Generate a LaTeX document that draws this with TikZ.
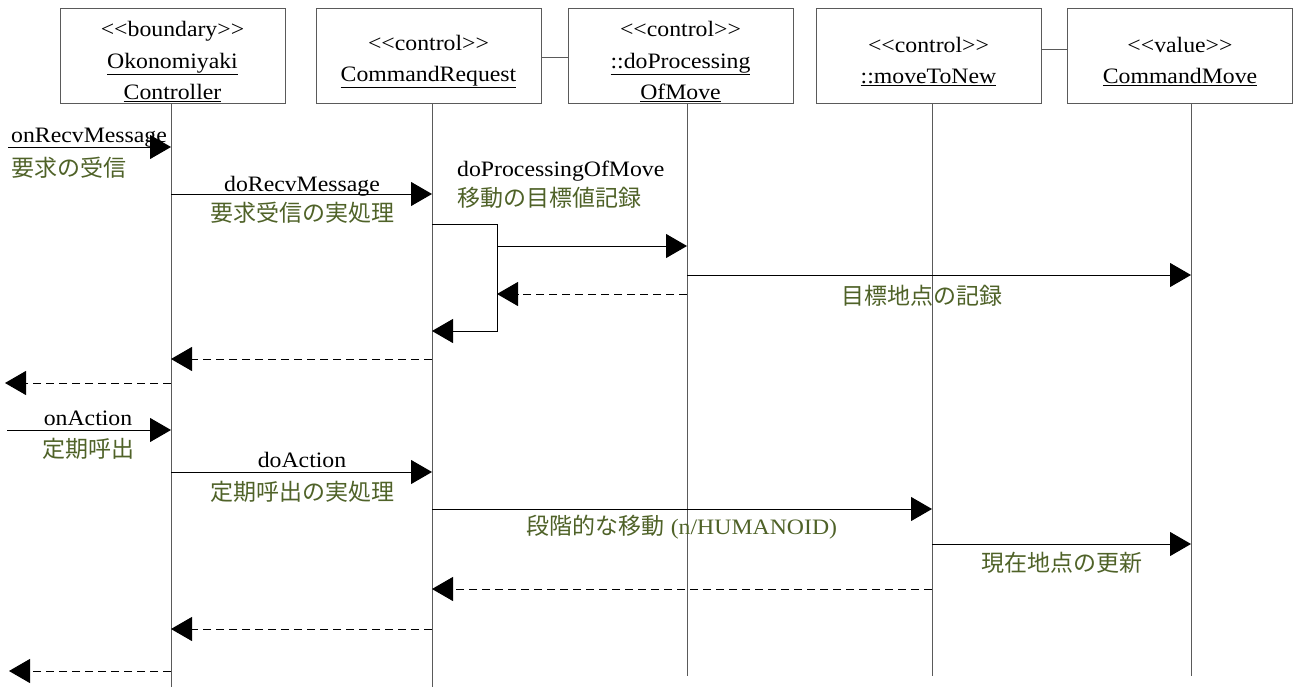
\documentclass[tikz,border=0pt]{standalone}
\usepackage{fontspec}
\setmainfont{Liberation Serif}[Ligatures=TeXOff, FakeStretch=1.08]
\newfontfamily\cjk{Noto Sans CJK JP}
\usetikzlibrary{arrows.meta}
\definecolor{jpgreen}{HTML}{4F6228}
\definecolor{lifeg}{HTML}{5A5A5A}
\tikzset{
  box/.style={draw=lifeg, line width=1pt, minimum width=225pt, minimum height=95pt, inner sep=0pt},
  boxtext/.style={align=center, inner sep=0pt, font=\fontsize{22}{31.5}\selectfont},
  life/.style={draw=lifeg, line width=1pt},
  msg/.style={draw=black, line width=1pt, -{Triangle[length=21pt,width=24pt]}},
  ret/.style={msg, dash pattern=on 8pt off 5pt},
  lbl/.style={font=\fontsize{22}{26}\selectfont, inner sep=0pt},
  jlbl/.style={font=\fontsize{23}{26}\selectfont\cjk, text=jpgreen, inner sep=0pt},
}
\begin{document}
\begin{tikzpicture}[x=1pt,y=-1pt]
\useasboundingbox (0,0) rectangle (1294,688);
% boxes
\node[box] (b1) at (172.5,55.5) {};
\node[box] (b2) at (428.5,55.5) {};
\node[box] (b3) at (680.5,55.5) {};
\node[box] (b4) at (928.5,55.5) {};
\node[box] (b5) at (1180,55.5) {};
\node[boxtext] (bt1) at ([yshift=-6pt]b1.center) {<<boundary>>\\\underline{Okonomiyaki}\\\underline{Controller}};
\node[boxtext] (bt2) at ([yshift=-6pt]b2.center) {<<control>>\\\underline{CommandRequest}};
\node[boxtext] (bt3) at ([yshift=-6pt]b3.center) {<<control>>\\\underline{::doProcessing}\\\underline{OfMove}};
\node[boxtext] (bt4) at ([yshift=-6pt]b4.center) {<<control>>\\\underline{::moveToNew}};
\node[boxtext] (bt5) at ([yshift=-6pt]b5.center) {<<value>>\\\underline{CommandMove}};
% box links
\draw[life] (b2.east |- 0,57) -- (b3.west |- 0,57);
\draw[life] (b4.east |- 0,49) -- (b5.west |- 0,49);
% lifelines
\coordinate (L1) at (171,103);
\coordinate (L2) at (432,103);
\coordinate (L3) at (687,103);
\coordinate (L4) at (932,103);
\coordinate (L5) at (1191,103);
\coordinate (Lb1) at (171,687);
\coordinate (Lb2) at (432,687);
\coordinate (Lb3) at (687,676);
\coordinate (Lb4) at (932,676);
\coordinate (Lb5) at (1191,676);
\draw[life] (L1) -- (Lb1);
\draw[life] (L2) -- (Lb2);
\draw[life] (L3) -- (Lb3);
\draw[life] (L4) -- (Lb4);
\draw[life] (L5) -- (Lb5);
% message y levels and free ends
\coordinate (y1) at (8,147);
\coordinate (y2) at (0,194);
\coordinate (s1) at (497,224);
\coordinate (y4) at (0,246);
\coordinate (y5) at (0,275);
\coordinate (y6) at (0,294);
\coordinate (y7) at (0,331);
\coordinate (y8) at (0,359);
\coordinate (e9) at (5,383);
\coordinate (y10) at (7,430);
\coordinate (y11) at (0,472);
\coordinate (y12) at (0,509);
\coordinate (y13) at (0,544);
\coordinate (y14) at (0,589);
\coordinate (y15) at (0,629);
\coordinate (e16) at (9,671);
% messages
\draw[msg] (y1) -- (L1 |- y1);
\draw[msg] (L1 |- y2) -- (L2 |- y2);
\draw[msg] (L2 |- s1) -- (s1) -- (s1 |- y7) -- (L2 |- y7);
\draw[msg] (s1 |- y4) -- (L3 |- y4);
\draw[msg] (L3 |- y5) -- (L5 |- y5);
\draw[ret] (L3 |- y6) -- (s1 |- y6);
\draw[ret] (L2 |- y8) -- (L1 |- y8);
\draw[ret] (L1 |- e9) -- (e9);
\draw[msg] (y10) -- (L1 |- y10);
\draw[msg] (L1 |- y11) -- (L2 |- y11);
\draw[msg] (L2 |- y12) -- (L4 |- y12);
\draw[msg] (L4 |- y13) -- (L5 |- y13);
\draw[ret] (L4 |- y14) -- (L2 |- y14);
\draw[ret] (L2 |- y15) -- (L1 |- y15);
\draw[ret] (L1 |- e16) -- (e16);
% labels
\node[lbl, anchor=base west] (t1) at (11,142) {onRecvMessage};
\node[jlbl, anchor=west] (j1) at (11,168) {要求の受信};
\node[lbl, anchor=base] (t2) at (302,191) {doRecvMessage};
\node[jlbl] (j2) at (302,213) {要求受信の実処理};
\node[lbl, anchor=base west] (t3) at (457,176) {doProcessingOfMove};
\node[jlbl, anchor=west] (j3) at (457,198) {移動の目標値記録};
\node[jlbl] (j5) at (922,296) {目標地点の記録};
\node[lbl, anchor=base] (t10) at (88,425) {onAction};
\node[jlbl] (j10) at (88,449) {定期呼出};
\node[lbl, anchor=base] (t11) at (302,467) {doAction};
\node[jlbl] (j11) at (302,492) {定期呼出の実処理};
\node[jlbl] (j12) at (682,527) {段階的な移動\normalfont\fontsize{22}{26}\selectfont\ (n/HUMANOID)};
\node[jlbl] (j13) at (1062,563) {現在地点の更新};
\end{tikzpicture}
\end{document}
